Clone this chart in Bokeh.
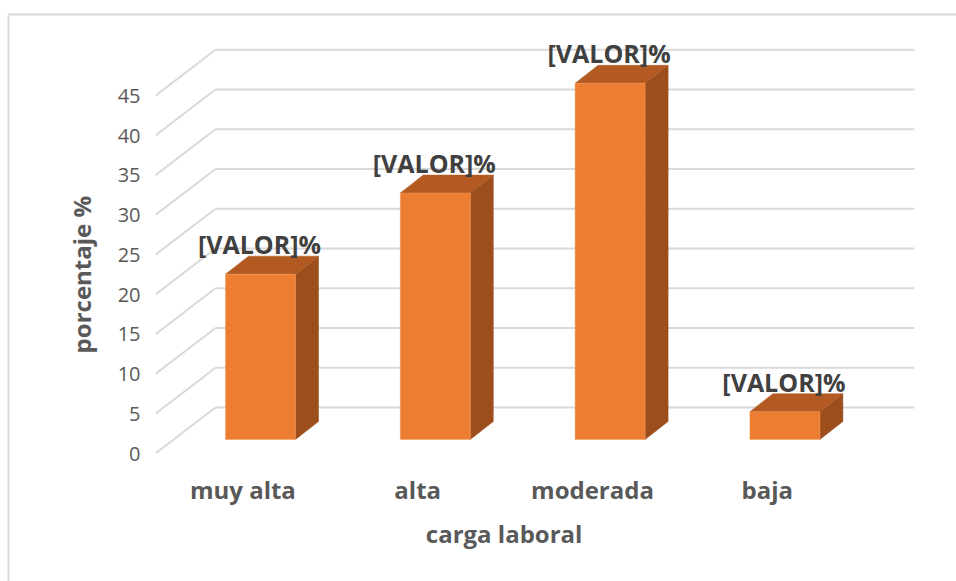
import math
from bokeh.plotting import figure
from bokeh.models import Range1d, FixedTicker, ColumnDataSource
from bokeh.core.properties import value
from bokeh.embed import file_html
from bokeh.resources import INLINE

categories = ["muy alta", "alta", "moderada", "baja"]
values = [20.8, 31.0, 44.8, 3.5]
value_labels = ["[VALOR]%", "[VALOR]%", "[VALOR]%", "[VALOR]%"]
y_ticks = [0, 5, 10, 15, 20, 25, 30, 35, 40, 45]
x_title = "carga laboral"
y_title = "porcentaje %"

FONT = "Open Sans"
W, H = 956, 581
FL, FR, FT, FB = 155, 42, 20, 128       # frame borders, px
CAT_PX = 174.8                          # px per category
VAL_PX = 7.95                           # px per value unit
ux = 1 / CAT_PX
uy = 1 / VAL_PX

p = figure(width=W, height=H, output_backend="svg", toolbar_location=None,
           x_range=Range1d(-0.5, -0.5 + (W - FL - FR) * ux),
           y_range=Range1d(0, (H - FT - FB) * uy),
           min_border_left=FL, min_border_right=FR,
           min_border_top=FT, min_border_bottom=FB,
           background_fill_color="white", border_fill_color="white",
           outline_line_color=None)
p.grid.visible = False

# axes
for ax in (p.xaxis[0], p.yaxis[0]):
    ax.axis_line_color = None
    ax.major_tick_line_color = None
    ax.minor_tick_line_color = None
    ax.major_label_text_font = FONT
    ax.major_label_text_color = "#595959"

p.yaxis.ticker = FixedTicker(ticks=y_ticks)
p.yaxis.major_label_text_font_size = "20px"
p.yaxis.major_label_standoff = 9

p.xaxis.ticker = FixedTicker(ticks=list(range(len(categories))))
p.xaxis.major_label_overrides = {i: c for i, c in enumerate(categories)}
p.xaxis.major_label_text_font_size = "24px"
p.xaxis.major_label_text_font_style = "bold"
p.xaxis.major_label_standoff = 13

# axis titles, centred on the front plane of the 3D axes
title_style = dict(text_font=value(FONT), text_font_style="bold", text_color="#595959",
                   text_font_size="24px", text_align="center", text_baseline="middle",
                   level="overlay")
p.text(x=[(len(categories) - 1) / 2 - 1 * ux], y=[-80 * uy], text=[x_title], **title_style)
p.text(x=[-0.5 - 74 * ux], y=[(y_ticks[0] + y_ticks[-1]) / 2], text=[y_title],
       angle=math.pi / 2, **title_style)

# wall gridlines
wall_dx, wall_dy = 60 * ux, 46 * uy
x0 = -0.5
x_end = x0 + (W - FL - FR) * ux
GRID = "#d9d9d9"
p.segment(x0=[x0] * len(y_ticks), y0=y_ticks,
          x1=[x0 + wall_dx] * len(y_ticks), y1=[t + wall_dy for t in y_ticks],
          line_color=GRID, line_width=2)
p.segment(x0=[x0 + wall_dx] * len(y_ticks), y0=[t + wall_dy for t in y_ticks],
          x1=[x_end] * len(y_ticks), y1=[t + wall_dy for t in y_ticks],
          line_color=GRID, line_width=2)

# 3D bars
bar_w = 70 * ux
shift_x, shift_y = 17.6 * ux, 14 * uy
dep_x, dep_y = 23 * ux, 18 * uy
for i, v in enumerate(values):
    l = i + shift_x - bar_w / 2
    r = l + bar_w
    b = shift_y
    t = v + shift_y
    p.patch([r, r + dep_x, r + dep_x, r], [b, b + dep_y, t + dep_y, t],
            fill_color="#9c4f1c", line_color="#9c4f1c", line_width=0.5)
    p.patch([l, r, r + dep_x, l + dep_x], [t, t, t + dep_y, t + dep_y],
            fill_color="#b25a22", line_color="#b25a22", line_width=0.5)
    p.quad(left=l, right=r, bottom=b, top=t,
           fill_color="#ed7d31", line_color="#f09a5f", line_width=0.5)

# value labels
src = ColumnDataSource(dict(x=[i + shift_x for i in range(len(values))],
                            y=[v + shift_y for v in values],
                            t=value_labels))
p.text(x="x", y="y", text="t", source=src, y_offset=-30, x_offset=-1,
       text_align="center", text_baseline="middle",
       text_font=value(FONT), text_font_style="bold",
       text_font_size="25px", text_color="#404040")

# chart-area border (top and left)
left_x = x0 - (FL - 8) * ux
right_x = x0 + (W - FL) * ux
top_y = (H - FT - FB) * uy + (FT - 14) * uy
bottom_y = -FB * uy
p.segment(x0=[left_x], y0=[top_y], x1=[right_x], y1=[top_y],
          line_color=GRID, line_width=2, level="overlay")
p.segment(x0=[left_x], y0=[top_y], x1=[left_x], y1=[bottom_y],
          line_color=GRID, line_width=2, level="overlay")

open("out.html", "w").write(file_html(p, INLINE))
